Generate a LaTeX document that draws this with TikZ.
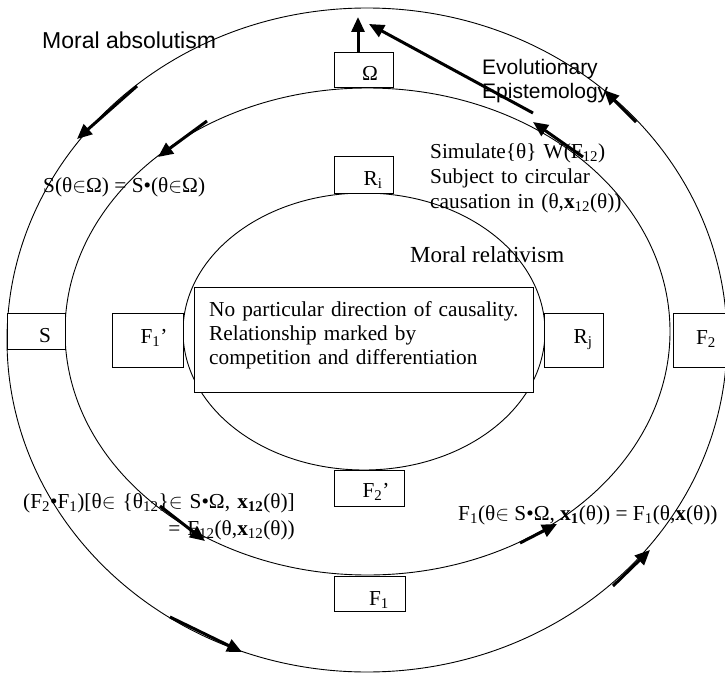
\documentclass[tikz,border=0pt]{standalone}
\usepackage{fontspec}
\setmainfont{Liberation Serif}
\newfontfamily\arialfont{Liberation Sans}
\usetikzlibrary{arrows.meta}

\begin{document}
\begin{tikzpicture}[
  x=1pt, y=-1pt,
  every node/.style={font=\fontsize{21.3}{25}\selectfont, inner sep=0pt},
  ring/.style={draw=black, line width=0.9pt},
  fbox/.style={draw=black, line width=0.9pt, fill=white, inner sep=0pt},
  flow/.style={-{Triangle[length=15pt,width=13pt]}, line width=3pt},
  sans/.style={font=\arialfont\fontsize{21}{23.5}\selectfont},
  bigtext/.style={font=\fontsize{23}{26}\selectfont},
  note/.style={text width=330pt, align=left, anchor=base west}
]
  \useasboundingbox (0,0) rectangle (725,674);

  % the three rings
  \coordinate (outerC) at (367,340);
  \coordinate (middleC) at (367.5,331.5);
  \coordinate (innerC) at (364,331.5);
  \draw[ring] (outerC) ellipse [x radius=360, y radius=332];
  \draw[ring] (middleC) ellipse [x radius=302.5, y radius=243.5];
  \draw[ring] (innerC) ellipse [x radius=181, y radius=138.5];

  % boxes on the rings
  \node[fbox, minimum width=59, minimum height=35] (omega) at (363.5,69.5) {};
  \node[fbox, minimum width=59, minimum height=37] (ri) at (363.5,174.5) {};
  \node[fbox, minimum width=58, minimum height=36] (sbox) at (36,331) {};
  \node[fbox, minimum width=71, minimum height=54] (fonep) at (147.5,340) {};
  \node[fbox, minimum width=59, minimum height=54] (rj) at (573.5,340) {};
  \node[fbox, minimum width=60, minimum height=54] (ftwo) at (703,340) {};
  \node[fbox, minimum width=70, minimum height=36] (ftwop) at (369,488) {};
  \node[fbox, minimum width=71, minimum height=35] (fone) at (369.5,593.5) {};
  \node[fbox, minimum width=339, minimum height=105] (cbox) at (363.5,339.5) {};

  \node[anchor=base] (omegaT) at (370,81) {Ω};
  \node[anchor=base] (riT) at (373,185) {R\textsubscript{i}};
  \node[anchor=base] (sT) at (45,342) {S};
  \node[anchor=base] (fonepT) at (154,343) {F\textsubscript{1}’};
  \node[anchor=base] (rjT) at (583,343) {R\textsubscript{j}};
  \node[anchor=base] (ftwoT) at (706,344) {F\textsubscript{2}};
  \node[anchor=base] (ftwopT) at (376,497) {F\textsubscript{2}’};
  \node[anchor=base] (foneT) at (379,605) {F\textsubscript{1}};

  % texts
  \node[font=\arialfont\fontsize{23}{26}\selectfont, anchor=base west] (absol) at (42,49) {Moral absolutism};
  \node[sans, note] (evol) at (482,75) {Evolutionary\\Epistemology};
  \node[anchor=base west] (sEq) at (43,192) {S(θ$\in$Ω) = S•(θ$\in$Ω)};
  \node[note] (simul) at (430,158)
    {Simulate\{θ\} W(F\textsubscript{12})\\Subject to circular\\causation in (θ,\textbf{x}\textsubscript{12}(θ))};
  \node[bigtext, anchor=base west] (relat) at (410,262) {Moral relativism};
  \node[note, font=\fontsize{21.3}{24}\selectfont] (ctext) at (209,316)
    {No particular direction of causality.\\Relationship marked by\\competition and differentiation};
  \node[text width=320pt, align=right, anchor=base east, font=\fontsize{21.3}{27}\selectfont] (fprod) at (295,508)
    {(F\textsubscript{2}•F\textsubscript{1})[θ$\in$ \{θ\textsubscript{12}\}$\in$ S•Ω, \textbf{x\textsubscript{12}}(θ)]\\= F\textsubscript{12}(θ,\textbf{x}\textsubscript{12}(θ))};
  \node[anchor=base west] (fsingle) at (458,520)
    {F\textsubscript{1}(θ$\in$ S•Ω, \textbf{x\textsubscript{1}}(θ)) = F\textsubscript{1}(θ,\textbf{x}(θ))};

  % arrows along the rings
  \coordinate (omegaUp) at (358,17);
  \coordinate (evolS) at (533,113);
  \coordinate (evolE) at (369,24);
  \coordinate (midNEs) at (583,157);
  \coordinate (midNEe) at (533,122);
  \coordinate (outNEs) at (636,122);
  \coordinate (outNEe) at (604,90);
  \coordinate (outNWs) at (137,86);
  \coordinate (outNWe) at (77,139);
  \coordinate (midNWs) at (207,121);
  \coordinate (midNWe) at (158,157);
  \coordinate (midSWs) at (160,506);
  \coordinate (midSWe) at (205,541);
  \coordinate (outSWs) at (170,617);
  \coordinate (outSWe) at (242,652);
  \coordinate (midSEs) at (520,543);
  \coordinate (midSEe) at (557,524);
  \coordinate (outSEs) at (613,586);
  \coordinate (outSEe) at (650,550);

  \draw[flow] (omega.north -| omegaUp) -- (omegaUp);
  \draw[flow] (evolS) -- (evolE);
  \draw[flow] (midNEs) -- (midNEe);
  \draw[flow] (outNEs) -- (outNEe);
  \draw[flow] (outNWs) -- (outNWe);
  \draw[flow] (midNWs) -- (midNWe);
  \draw[flow] (midSWs) -- (midSWe);
  \draw[flow] (outSWs) -- (outSWe);
  \draw[flow] (midSEs) -- (midSEe);
  \draw[flow] (outSEs) -- (outSEe);
\end{tikzpicture}
\end{document}
